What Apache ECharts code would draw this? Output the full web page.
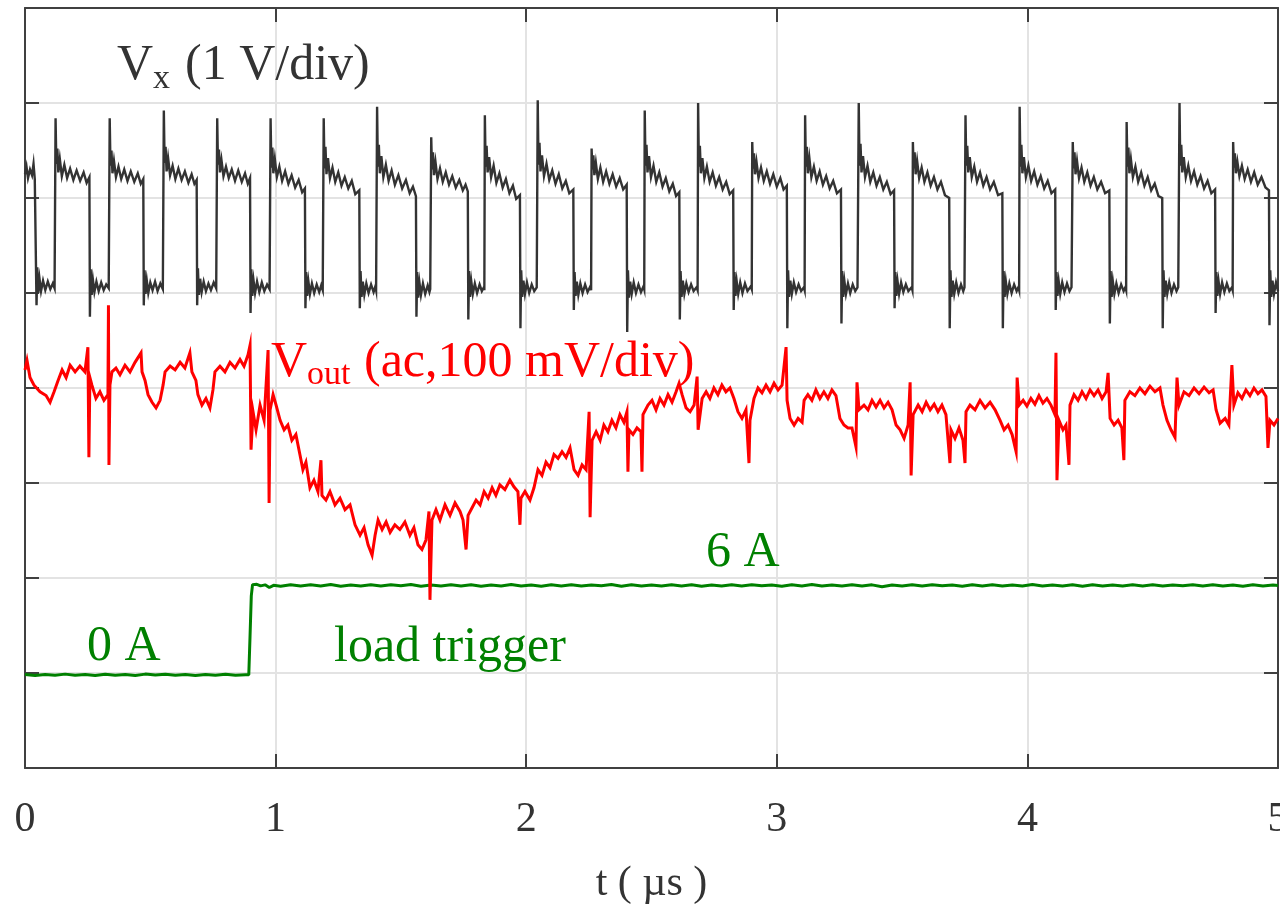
<!DOCTYPE html>
<html>
<head>
<meta charset="utf-8">
<title>Load step transient</title>
<script src="https://cdn.jsdelivr.net/npm/echarts@6/dist/echarts.min.js"></script>
<style>
  html, body { margin: 0; padding: 0; background: #ffffff; }
  #chart { width: 1280px; height: 907px; }
</style>
</head>
<body>
<div id="chart"></div>
<script>
// Time axis ticks (µs)
const timeTicks = [0, 1, 2, 3, 4, 5];
// Vertical screen: 8 divisions
const divTicks = [0, 8];

// Switch-node voltage Vx, in screen divisions (1 V/div)
const vxTrace = [
  [0.000,6.25],[0.006,6.33],[0.012,6.21],[0.020,6.30],[0.028,6.24],[0.034,6.36],[0.039,6.20],[0.044,6.22],
  [0.046,4.87],[0.049,5.27],[0.053,5.00],[0.058,5.15],[0.064,5.02],[0.072,5.13],[0.081,5.03],[0.091,5.12],[0.101,5.04],[0.111,5.10],[0.118,5.05],
  [0.120,5.06],[0.122,6.84],[0.125,6.36],[0.129,6.52],[0.133,6.27],[0.139,6.41],[0.147,6.23],[0.157,6.35],[0.168,6.21],[0.180,6.31],[0.193,6.19],[0.206,6.29],[0.220,6.18],[0.234,6.27],[0.246,6.16],[0.257,6.22],
  [0.259,4.75],[0.262,5.25],[0.266,4.98],[0.271,5.14],[0.277,5.01],[0.285,5.12],[0.294,5.02],[0.304,5.11],[0.314,5.03],[0.324,5.09],[0.334,5.05],
  [0.336,5.06],[0.338,6.84],[0.341,6.34],[0.345,6.50],[0.349,6.26],[0.355,6.39],[0.363,6.22],[0.373,6.33],[0.384,6.20],[0.396,6.30],[0.409,6.18],[0.422,6.28],[0.436,6.17],[0.450,6.26],[0.462,6.15],[0.472,6.20],
  [0.474,4.87],[0.477,5.24],[0.481,4.99],[0.486,5.13],[0.492,5.00],[0.500,5.11],[0.509,5.03],[0.519,5.12],[0.529,5.02],[0.540,5.10],[0.550,5.04],
  [0.552,5.05],[0.554,6.92],[0.557,6.37],[0.561,6.54],[0.565,6.28],[0.571,6.42],[0.579,6.24],[0.589,6.34],[0.600,6.20],[0.612,6.31],[0.625,6.19],[0.638,6.28],[0.652,6.16],[0.665,6.25],[0.676,6.15],[0.685,6.19],
  [0.687,4.87],[0.690,5.26],[0.694,4.98],[0.699,5.15],[0.705,5.01],[0.713,5.12],[0.722,5.02],[0.732,5.10],[0.742,5.03],[0.753,5.11],[0.763,5.05],
  [0.765,5.05],[0.767,6.84],[0.770,6.35],[0.774,6.51],[0.778,6.27],[0.784,6.40],[0.792,6.23],[0.802,6.33],[0.813,6.21],[0.825,6.30],[0.838,6.18],[0.851,6.29],[0.865,6.17],[0.878,6.26],[0.889,6.15],[0.898,6.21],
  [0.900,4.79],[0.903,5.25],[0.907,4.97],[0.912,5.13],[0.918,5.00],[0.926,5.12],[0.935,5.01],[0.945,5.11],[0.955,5.02],[0.966,5.09],[0.976,5.04],
  [0.978,5.04],[0.980,6.84],[0.983,6.32],[0.987,6.53],[0.991,6.26],[0.997,6.41],[1.005,6.22],[1.015,6.33],[1.026,6.18],[1.038,6.28],[1.051,6.15],[1.064,6.24],[1.078,6.11],[1.092,6.19],[1.106,6.06],[1.117,6.10],
  [1.119,4.84],[1.122,5.22],[1.126,4.97],[1.131,5.12],[1.137,4.99],[1.145,5.10],[1.154,5.00],[1.164,5.09],[1.174,5.01],[1.182,5.08],[1.188,5.03],
  [1.190,5.03],[1.192,6.84],[1.195,6.31],[1.199,6.54],[1.203,6.25],[1.209,6.42],[1.217,6.21],[1.227,6.32],[1.238,6.17],[1.250,6.27],[1.263,6.13],[1.276,6.22],[1.290,6.10],[1.304,6.18],[1.318,6.04],[1.334,6.08],
  [1.336,4.84],[1.339,5.23],[1.343,4.96],[1.348,5.12],[1.354,4.98],[1.362,5.10],[1.371,5.00],[1.381,5.09],[1.391,5.01],[1.398,5.07],[1.401,5.03],
  [1.403,5.03],[1.405,6.96],[1.408,6.33],[1.412,6.56],[1.416,6.26],[1.422,6.44],[1.430,6.22],[1.440,6.35],[1.451,6.18],[1.463,6.29],[1.476,6.14],[1.490,6.24],[1.505,6.10],[1.520,6.19],[1.535,6.05],[1.548,6.12],[1.560,6.02],
  [1.562,4.75],[1.565,5.22],[1.569,4.95],[1.574,5.11],[1.580,4.98],[1.588,5.10],[1.597,4.99],[1.607,5.08],[1.614,5.01],[1.617,5.04],
  [1.619,5.04],[1.621,6.64],[1.624,6.30],[1.628,6.48],[1.632,6.24],[1.638,6.38],[1.646,6.20],[1.656,6.31],[1.667,6.17],[1.679,6.27],[1.692,6.14],[1.705,6.23],[1.719,6.11],[1.733,6.19],[1.747,6.08],[1.758,6.14],[1.767,6.07],
  [1.769,4.72],[1.772,5.23],[1.776,4.96],[1.781,5.12],[1.787,4.99],[1.795,5.10],[1.804,5.00],[1.814,5.09],[1.823,5.02],[1.831,5.06],
  [1.833,5.03],[1.835,6.87],[1.838,6.33],[1.842,6.55],[1.846,6.27],[1.852,6.43],[1.860,6.22],[1.870,6.34],[1.881,6.16],[1.893,6.26],[1.906,6.11],[1.919,6.20],[1.933,6.05],[1.947,6.13],[1.960,5.99],[1.975,6.03],
  [1.977,4.63],[1.980,5.24],[1.984,4.96],[1.989,5.13],[1.995,4.99],[2.003,5.11],[2.012,5.00],[2.022,5.09],[2.032,5.02],[2.042,5.06],
  [2.044,5.04],[2.046,7.03],[2.049,6.35],[2.053,6.58],[2.057,6.28],[2.063,6.45],[2.071,6.23],[2.081,6.36],[2.092,6.19],[2.104,6.29],[2.117,6.15],[2.130,6.25],[2.144,6.10],[2.158,6.18],[2.172,6.05],[2.188,6.09],
  [2.190,4.82],[2.193,5.22],[2.197,4.97],[2.202,5.12],[2.208,4.98],[2.216,5.10],[2.225,5.00],[2.235,5.09],[2.245,5.01],[2.256,5.07],
  [2.259,5.03],[2.261,6.52],[2.264,6.30],[2.268,6.45],[2.272,6.24],[2.278,6.37],[2.286,6.20],[2.296,6.32],[2.307,6.17],[2.319,6.28],[2.332,6.15],[2.345,6.25],[2.359,6.12],[2.373,6.21],[2.387,6.09],[2.401,6.14],
  [2.403,4.59],[2.406,5.24],[2.410,4.95],[2.415,5.12],[2.421,4.99],[2.429,5.11],[2.438,5.00],[2.448,5.09],[2.458,5.01],[2.468,5.07],
  [2.471,5.04],[2.473,6.92],[2.476,6.34],[2.480,6.56],[2.484,6.27],[2.490,6.44],[2.498,6.22],[2.508,6.34],[2.519,6.17],[2.531,6.27],[2.544,6.12],[2.557,6.21],[2.571,6.07],[2.585,6.15],[2.598,6.02],[2.611,6.06],
  [2.613,4.72],[2.616,5.23],[2.620,4.96],[2.625,5.13],[2.631,4.99],[2.639,5.10],[2.648,5.01],[2.658,5.09],[2.668,5.02],[2.680,5.06],
  [2.684,5.03],[2.686,7.00],[2.689,6.33],[2.693,6.55],[2.697,6.26],[2.703,6.42],[2.711,6.21],[2.721,6.33],[2.732,6.17],[2.744,6.27],[2.757,6.13],[2.770,6.22],[2.784,6.09],[2.798,6.17],[2.812,6.04],[2.826,6.08],
  [2.828,4.82],[2.831,5.22],[2.835,4.97],[2.840,5.12],[2.846,4.99],[2.854,5.11],[2.863,5.00],[2.873,5.10],[2.883,5.02],[2.896,5.07],
  [2.900,5.04],[2.902,6.59],[2.905,6.31],[2.909,6.47],[2.913,6.25],[2.919,6.38],[2.927,6.21],[2.937,6.32],[2.948,6.18],[2.960,6.28],[2.973,6.15],[2.986,6.25],[3.000,6.12],[3.014,6.21],[3.027,6.09],[3.040,6.13],
  [3.042,4.63],[3.045,5.24],[3.049,4.96],[3.054,5.13],[3.060,4.99],[3.068,5.11],[3.077,5.01],[3.087,5.09],[3.097,5.02],[3.108,5.06],
  [3.111,5.03],[3.113,6.87],[3.116,6.33],[3.120,6.54],[3.124,6.26],[3.130,6.42],[3.138,6.22],[3.148,6.33],[3.159,6.18],[3.171,6.28],[3.184,6.14],[3.197,6.23],[3.211,6.10],[3.225,6.18],[3.240,6.05],[3.256,6.09],
  [3.258,4.68],[3.261,5.23],[3.265,4.96],[3.270,5.12],[3.276,4.99],[3.284,5.10],[3.293,5.00],[3.303,5.09],[3.313,5.02],[3.322,5.06],
  [3.325,5.04],[3.327,7.00],[3.330,6.34],[3.334,6.57],[3.338,6.27],[3.344,6.44],[3.352,6.22],[3.362,6.34],[3.373,6.17],[3.385,6.27],[3.398,6.13],[3.411,6.22],[3.425,6.09],[3.439,6.17],[3.454,6.04],[3.468,6.08],
  [3.470,4.84],[3.473,5.22],[3.477,4.97],[3.482,5.12],[3.488,4.99],[3.496,5.11],[3.505,5.01],[3.515,5.09],[3.525,5.02],[3.538,5.06],
  [3.541,5.03],[3.543,6.59],[3.546,6.31],[3.550,6.48],[3.554,6.25],[3.560,6.39],[3.568,6.21],[3.578,6.32],[3.589,6.17],[3.601,6.27],[3.614,6.13],[3.627,6.22],[3.641,6.09],[3.655,6.17],[3.671,6.03],[3.688,6.00],
  [3.690,4.63],[3.693,5.24],[3.697,4.96],[3.702,5.13],[3.708,4.99],[3.716,5.11],[3.725,5.00],[3.735,5.09],[3.744,5.02],[3.749,5.06],
  [3.751,5.04],[3.753,6.87],[3.756,6.34],[3.760,6.55],[3.764,6.27],[3.770,6.43],[3.778,6.22],[3.788,6.33],[3.799,6.17],[3.811,6.27],[3.824,6.13],[3.837,6.22],[3.851,6.09],[3.866,6.17],[3.883,6.03],[3.900,6.05],
  [3.902,4.63],[3.905,5.23],[3.909,4.96],[3.914,5.12],[3.920,4.99],[3.928,5.10],[3.937,5.00],[3.947,5.09],[3.957,5.02],[3.964,5.06],
  [3.967,5.03],[3.969,6.96],[3.972,6.33],[3.976,6.56],[3.980,6.26],[3.986,6.43],[3.994,6.22],[4.004,6.34],[4.015,6.18],[4.027,6.28],[4.040,6.14],[4.053,6.23],[4.067,6.10],[4.081,6.18],[4.096,6.05],[4.111,6.09],
  [4.113,4.82],[4.116,5.22],[4.120,4.97],[4.125,5.12],[4.131,4.99],[4.139,5.11],[4.148,5.01],[4.158,5.10],[4.168,5.02],[4.176,5.06],
  [4.179,5.04],[4.181,6.59],[4.184,6.31],[4.188,6.48],[4.192,6.25],[4.198,6.39],[4.206,6.21],[4.216,6.32],[4.227,6.17],[4.239,6.27],[4.252,6.13],[4.265,6.22],[4.279,6.09],[4.294,6.17],[4.310,6.05],[4.327,6.08],
  [4.329,4.68],[4.332,5.23],[4.336,4.96],[4.341,5.12],[4.347,4.99],[4.355,5.10],[4.364,5.00],[4.374,5.09],[4.384,5.02],[4.391,5.06],
  [4.394,5.03],[4.396,6.80],[4.399,6.33],[4.403,6.53],[4.407,6.26],[4.413,6.41],[4.421,6.22],[4.431,6.33],[4.442,6.17],[4.454,6.27],[4.467,6.13],[4.480,6.22],[4.494,6.08],[4.508,6.15],[4.523,6.02],[4.538,6.00],
  [4.540,4.63],[4.543,5.24],[4.547,4.96],[4.552,5.13],[4.558,4.99],[4.566,5.11],[4.575,5.00],[4.585,5.09],[4.595,5.02],[4.602,5.06],
  [4.605,5.04],[4.607,7.00],[4.610,6.34],[4.614,6.56],[4.618,6.27],[4.624,6.43],[4.632,6.22],[4.642,6.34],[4.653,6.18],[4.665,6.28],[4.678,6.14],[4.691,6.23],[4.705,6.10],[4.719,6.18],[4.734,6.05],[4.749,6.09],
  [4.751,4.79],[4.754,5.22],[4.758,4.97],[4.763,5.12],[4.769,4.99],[4.777,5.11],[4.786,5.01],[4.796,5.10],[4.806,5.02],[4.816,5.06],
  [4.819,5.03],[4.821,6.59],[4.824,6.32],[4.828,6.47],[4.832,6.26],[4.838,6.38],[4.846,6.23],[4.856,6.34],[4.867,6.20],[4.879,6.30],[4.892,6.17],[4.905,6.27],[4.919,6.14],[4.934,6.22],[4.950,6.11],[4.964,6.08],
  [4.966,4.66],[4.969,5.24],[4.973,4.96],[4.978,5.13],[4.984,4.99],[4.992,5.11],[5.000,5.02]
];

// Output voltage ripple Vout (ac, 100 mV/div), in screen divisions
const voutTrace = [
  [0.000,4.19],[0.008,4.29],[0.020,4.11],[0.036,4.03],[0.060,3.96],[0.084,3.92],[0.100,3.85],[0.116,3.96],[0.132,4.08],[0.148,4.19],[0.164,4.11],[0.180,4.24],[0.200,4.17],[0.219,4.23],[0.239,4.17],
  [0.251,4.43],[0.255,3.27],[0.259,4.11],[0.267,4.03],[0.283,3.89],[0.299,3.96],[0.315,3.87],[0.331,3.93],[0.333,4.87],[0.335,3.19],[0.339,4.03],[0.347,4.17],[0.363,4.21],[0.379,4.14],[0.399,4.24],
  [0.419,4.17],[0.439,4.27],[0.463,4.37],[0.467,4.17],[0.479,4.08],[0.491,3.93],[0.507,3.85],[0.523,3.79],[0.539,3.87],[0.551,4.03],[0.559,4.17],[0.579,4.23],[0.599,4.19],[0.619,4.27],[0.638,4.21],
  [0.658,4.37],[0.666,4.17],[0.682,4.08],[0.690,3.93],[0.706,3.82],[0.722,3.89],[0.738,3.79],[0.750,3.98],[0.758,4.17],[0.778,4.23],[0.798,4.17],[0.818,4.27],[0.838,4.21],[0.858,4.30],[0.874,4.23],
  [0.890,4.35],[0.898,4.45],[0.902,3.35],[0.910,3.75],[0.922,3.56],[0.938,3.82],[0.954,3.66],[0.970,4.40],[0.974,2.79],[0.978,3.77],[0.990,3.93],[1.002,3.82],[1.018,3.66],[1.034,3.56],[1.049,3.61],
  [1.065,3.45],[1.081,3.51],[1.097,3.30],[1.109,3.14],[1.121,3.22],[1.137,2.95],[1.153,3.03],[1.169,2.91],[1.181,3.24],[1.185,2.87],[1.201,2.82],[1.217,2.91],[1.237,2.77],[1.257,2.84],[1.277,2.72],
  [1.297,2.77],[1.317,2.56],[1.337,2.45],[1.353,2.53],[1.369,2.35],[1.385,2.24],[1.397,2.45],[1.409,2.61],[1.425,2.51],[1.441,2.59],[1.457,2.48],[1.476,2.56],[1.496,2.51],[1.516,2.59],[1.536,2.45],
  [1.552,2.53],[1.568,2.35],[1.584,2.30],[1.600,2.40],[1.612,2.70],[1.616,1.77],[1.624,2.61],[1.640,2.72],[1.656,2.61],[1.676,2.77],[1.696,2.66],[1.716,2.79],[1.736,2.70],[1.748,2.61],[1.760,2.30],
  [1.768,2.66],[1.784,2.74],[1.800,2.82],[1.816,2.77],[1.832,2.91],[1.848,2.84],[1.864,2.95],[1.879,2.87],[1.895,2.98],[1.915,2.93],[1.935,3.03],[1.951,2.96],[1.967,2.91],[1.975,2.56],[1.979,2.84],
  [1.995,2.91],[2.015,2.82],[2.031,2.95],[2.047,3.14],[2.063,3.08],[2.079,3.22],[2.095,3.16],[2.111,3.30],[2.127,3.26],[2.143,3.33],[2.159,3.27],[2.175,3.37],[2.191,3.14],[2.207,3.08],[2.223,3.19],
  [2.239,3.14],[2.251,3.75],[2.255,2.64],[2.263,3.45],[2.279,3.54],[2.295,3.45],[2.310,3.61],[2.326,3.54],[2.342,3.66],[2.358,3.58],[2.374,3.72],[2.390,3.64],[2.402,3.75],[2.406,3.12],[2.410,3.56],
  [2.426,3.51],[2.442,3.58],[2.458,3.54],[2.462,3.12],[2.466,3.72],[2.486,3.82],[2.502,3.87],[2.518,3.77],[2.534,3.89],[2.550,3.82],[2.566,3.93],[2.582,3.85],[2.598,3.96],[2.610,4.05],[2.622,3.93],
  [2.638,3.79],[2.654,3.75],[2.670,3.82],[2.682,4.12],[2.686,3.56],[2.702,3.89],[2.718,3.96],[2.733,3.89],[2.749,4.00],[2.765,3.93],[2.781,4.03],[2.797,3.96],[2.813,4.00],[2.829,3.89],[2.845,3.75],
  [2.861,3.68],[2.877,3.77],[2.889,3.21],[2.893,3.66],[2.909,3.89],[2.925,4.00],[2.941,3.95],[2.957,4.03],[2.973,3.96],[2.989,4.05],[3.005,3.98],[3.021,4.03],[3.037,4.43],[3.041,3.87],[3.053,3.68],
  [3.069,3.61],[3.085,3.68],[3.101,3.64],[3.109,3.87],[3.124,3.93],[3.140,3.87],[3.156,3.98],[3.172,3.89],[3.188,3.96],[3.204,3.89],[3.220,3.98],[3.236,3.92],[3.252,3.68],[3.268,3.61],[3.284,3.58],
  [3.300,3.58],[3.316,3.38],[3.320,4.06],[3.328,3.77],[3.348,3.82],[3.364,3.77],[3.380,3.87],[3.396,3.80],[3.412,3.87],[3.428,3.79],[3.444,3.85],[3.460,3.77],[3.476,3.61],[3.492,3.56],[3.508,3.47],
  [3.524,3.61],[3.532,4.06],[3.536,3.08],[3.544,3.72],[3.564,3.82],[3.580,3.75],[3.596,3.85],[3.612,3.77],[3.628,3.83],[3.643,3.75],[3.659,3.82],[3.675,3.72],[3.691,3.21],[3.695,3.56],[3.711,3.47],
  [3.727,3.58],[3.743,3.45],[3.751,3.21],[3.755,3.75],[3.771,3.82],[3.791,3.77],[3.811,3.87],[3.831,3.79],[3.851,3.85],[3.871,3.77],[3.891,3.66],[3.907,3.56],[3.923,3.61],[3.939,3.51],[3.955,3.33],
  [3.959,4.11],[3.967,3.82],[3.983,3.87],[3.998,3.81],[4.014,3.89],[4.030,3.83],[4.046,3.92],[4.062,3.84],[4.078,3.89],[4.094,3.82],[4.110,3.72],[4.114,4.37],[4.118,3.03],[4.126,3.66],[4.142,3.56],
  [4.154,3.61],[4.166,3.19],[4.170,3.82],[4.186,3.93],[4.202,3.87],[4.218,3.96],[4.234,3.89],[4.250,3.98],[4.266,3.92],[4.282,3.98],[4.298,3.89],[4.314,3.96],[4.322,4.16],[4.330,3.68],[4.346,3.61],
  [4.362,3.66],[4.377,3.58],[4.385,3.24],[4.389,3.87],[4.409,3.96],[4.429,3.92],[4.449,4.00],[4.469,3.94],[4.489,4.02],[4.509,3.96],[4.529,4.00],[4.541,3.82],[4.557,3.66],[4.573,3.56],[4.589,3.48],
  [4.597,4.11],[4.605,3.82],[4.625,3.96],[4.645,3.92],[4.665,4.00],[4.685,3.94],[4.705,4.01],[4.725,3.95],[4.741,3.98],[4.753,3.77],[4.769,3.63],[4.789,3.68],[4.804,3.61],[4.816,4.24],[4.824,3.82],
  [4.840,3.95],[4.856,3.89],[4.872,3.98],[4.888,3.92],[4.904,4.00],[4.920,3.94],[4.936,3.98],[4.952,3.91],[4.960,3.37],[4.968,3.66],[4.984,3.61],[5.000,3.68]
];

// Load current (A): 0 A before the trigger, 6 A after
const loadCurrent = [
  [0.000,0.02],[0.040,-0.04],[0.080,0.03],[0.120,-0.02],[0.160,0.05],[0.200,-0.03],[0.240,0.02],[0.280,-0.05],[0.320,0.04],[0.360,-0.02],[0.400,0.03],[0.440,-0.04],[0.480,0.05],[0.520,-0.01],
  [0.560,0.04],[0.600,-0.03],[0.640,0.02],[0.680,-0.04],[0.720,0.03],[0.760,-0.02],[0.800,0.04],[0.840,-0.03],[0.880,0.01],[0.893,0.00],[0.898,2.60],[0.903,5.30],[0.908,6.05],[0.914,6.18],
  [0.925,6.08],[0.940,5.97],[0.958,6.04],[0.975,5.86],[0.992,6.01],[1.020,5.95],[1.060,6.05],[1.100,5.96],[1.140,6.04],[1.180,5.97],[1.220,6.06],[1.260,5.95],[1.300,6.03],[1.340,5.97],
  [1.380,6.05],[1.420,5.96],[1.460,6.04],[1.500,5.98],[1.540,6.06],[1.580,5.95],[1.620,6.03],[1.660,5.96],[1.700,6.05],[1.740,5.97],[1.780,6.04],[1.820,5.95],[1.860,6.03],[1.900,5.97],
  [1.940,6.06],[1.980,5.96],[2.020,6.03],[2.060,5.95],[2.100,6.04],[2.140,5.97],[2.180,6.05],[2.220,5.96],[2.260,6.03],[2.300,5.98],[2.340,6.06],[2.380,5.95],[2.420,6.04],[2.460,5.97],
  [2.500,6.03],[2.540,5.96],[2.580,6.05],[2.620,5.97],[2.660,6.04],[2.700,5.95],[2.740,6.03],[2.780,5.97],[2.820,6.05],[2.860,5.96],[2.900,6.04],[2.940,5.98],[2.980,6.03],[3.020,5.95],
  [3.060,6.04],[3.100,5.97],[3.140,6.06],[3.180,5.96],[3.220,6.03],[3.260,5.97],[3.300,6.05],[3.340,5.96],[3.380,6.04],[3.420,5.91],[3.460,6.03],[3.500,5.97],[3.540,6.05],[3.580,5.96],
  [3.620,6.04],[3.660,5.98],[3.700,6.03],[3.740,5.95],[3.780,6.05],[3.820,5.97],[3.860,6.04],[3.900,5.96],[3.940,6.03],[3.980,5.97],[4.020,6.06],[4.060,5.96],[4.100,6.03],[4.140,5.97],
  [4.180,6.05],[4.220,5.95],[4.260,6.04],[4.300,5.97],[4.340,6.03],[4.380,5.96],[4.420,6.05],[4.460,5.97],[4.500,6.04],[4.540,5.96],[4.580,6.03],[4.620,5.98],[4.660,6.05],[4.700,5.96],
  [4.740,6.04],[4.780,5.97],[4.820,6.03],[4.860,5.95],[4.900,6.04],[4.940,5.97],[4.980,6.03],[5.000,6.00]
];
// Current channel scale: 0 A sits just under the first division
const currentRange = [-6.25, 44.75];

const SERIF = '"Liberation Serif", "Times New Roman", serif';
const AXIS_COLOR = '#404040';
const GRID_COLOR = '#e3e3e3';
const GRAY = '#333333';
const RED = '#ff0000';
const GREEN = '#008000';

function txt(x, y, text, size, color) {
  return {
    type: 'text', x: x, y: y, silent: true, z: 100,
    style: { text: text, font: size + 'px ' + SERIF, fill: color, textAlign: 'left', textVerticalAlign: 'middle' }
  };
}

const chart = echarts.init(document.getElementById('chart'), null, { renderer: 'canvas' });

const tickStep = timeTicks[1] - timeTicks[0];
const axisCommon = {
  type: 'value',
  axisLine: { show: true, onZero: false, lineStyle: { color: AXIS_COLOR, width: 2 } },
  axisTick: { show: true, inside: true, length: 14, lineStyle: { color: AXIS_COLOR, width: 2 } }
};

chart.setOption({
  animation: false,
  backgroundColor: '#ffffff',
  grid: { left: 25, right: 2, top: 8, bottom: 139, containLabel: false, outerBoundsMode: 'none' },
  xAxis: [
    Object.assign({}, axisCommon, {
      position: 'bottom',
      min: timeTicks[0], max: timeTicks[timeTicks.length - 1], interval: tickStep,
      axisLabel: { show: true, margin: 31, color: GRAY, fontFamily: SERIF, fontSize: 42 },
      splitLine: { show: true, lineStyle: { color: GRID_COLOR, width: 2 } },
      name: 't ( µs )', nameLocation: 'middle', nameGap: 95,
      nameTextStyle: { color: GRAY, fontFamily: SERIF, fontSize: 42 }
    }),
    Object.assign({}, axisCommon, {
      position: 'top',
      min: timeTicks[0], max: timeTicks[timeTicks.length - 1], interval: tickStep,
      axisLabel: { show: false }, splitLine: { show: false }
    })
  ],
  yAxis: [
    Object.assign({}, axisCommon, {
      position: 'left', min: divTicks[0], max: divTicks[1], interval: 1,
      axisLabel: { show: false },
      splitLine: { show: true, lineStyle: { color: GRID_COLOR, width: 2 } }
    }),
    Object.assign({}, axisCommon, {
      position: 'right', min: divTicks[0], max: divTicks[1], interval: 1,
      axisLabel: { show: false }, splitLine: { show: false }
    }),
    { type: 'value', show: false, min: currentRange[0], max: currentRange[1], splitLine: { show: false } }
  ],
  series: [
    {
      name: 'Vx', type: 'line', xAxisIndex: 0, yAxisIndex: 0, data: vxTrace,
      showSymbol: false, symbol: 'none', z: 3,
      lineStyle: { color: GRAY, width: 2.4, join: 'miter' }
    },
    {
      name: 'iLoad', type: 'line', xAxisIndex: 0, yAxisIndex: 2, data: loadCurrent,
      showSymbol: false, symbol: 'none', z: 4,
      lineStyle: { color: GREEN, width: 3 }
    },
    {
      name: 'Vout', type: 'line', xAxisIndex: 0, yAxisIndex: 0, data: voutTrace,
      showSymbol: false, symbol: 'none', z: 5,
      lineStyle: { color: RED, width: 3, join: 'miter' }
    }
  ],
  graphic: [
    txt(117, 66, 'V', 50, GRAY),
    txt(153, 79, 'x', 34, GRAY),
    txt(185, 66, '(1 V/div)', 50, GRAY),
    txt(271, 363, 'V', 50, RED),
    txt(307, 375, 'out', 34, RED),
    txt(364, 363, '(ac,100 mV/div)', 50, RED),
    txt(87, 647, '0 A', 50, GREEN),
    txt(334, 648, 'load trigger', 50, GREEN),
    txt(706, 553, '6 A', 50, GREEN)
  ]
});
</script>
</body>
</html>
